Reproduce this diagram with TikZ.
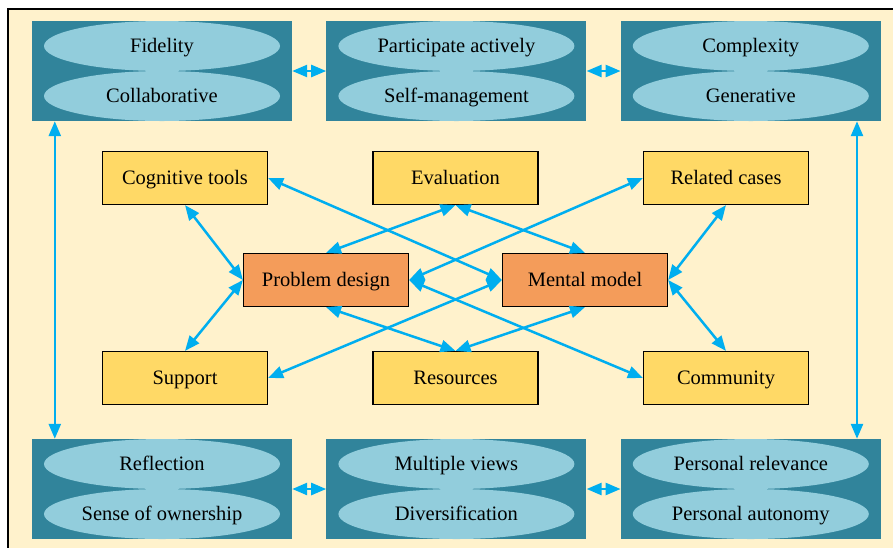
\documentclass[tikz,border=0pt]{standalone}
\usepackage{fontspec}
\setmainfont{Liberation Serif}
\usepackage{tikz}
\usetikzlibrary{arrows.meta,positioning,shapes.geometric,calc}
\definecolor{cream}{HTML}{FFF2CC}
\definecolor{tealbox}{HTML}{31849B}
\definecolor{skyoval}{HTML}{92CDDC}
\definecolor{sand}{HTML}{FFD966}
\definecolor{peach}{HTML}{F49C5A}
\definecolor{linkblue}{HTML}{00AEEF}

\begin{document}
\begin{tikzpicture}[
  x=1pt,y=-1pt,
  node distance=34pt,
  font=\fontsize{20.5}{24}\selectfont,
  group/.style={fill=tealbox,minimum width=260pt,minimum height=100pt,inner sep=0pt},
  oval/.style={ellipse,fill=skyoval,minimum width=236pt,minimum height=50pt,inner sep=0pt,
               text height=15pt,text depth=2pt},
  factor/.style={draw=black,line width=1.2pt,fill=sand,minimum width=165pt,
                 minimum height=53pt,inner sep=0pt,text height=15pt,text depth=2pt},
  core/.style={factor,fill=peach},
  link/.style={{Triangle[length=15pt,width=12pt]}-{Triangle[length=15pt,width=12pt]},
               line width=2.5pt,color=linkblue}
]
  \useasboundingbox (0,0) rectangle (893,547);
  \fill[white] (0,0) rectangle (893,547);
  \draw[fill=cream,line width=1.5pt] (8,9) rectangle (910,560);

  % outer groups, two ovals each
  \node[group] (tl) at (162,71) {};
  \node[group,right=of tl] (tm) {};
  \node[group,right=of tm] (tr) {};
  \node[group] (bl) at (162,489) {};
  \node[group,right=of bl] (bm) {};
  \node[group,right=of bm] (br) {};
  \foreach \g/\a/\b in {tl/Fidelity/Collaborative,
                        tm/Participate actively/Self-management,
                        tr/Complexity/Generative,
                        bl/Reflection/Sense of ownership,
                        bm/Multiple views/Diversification,
                        br/Personal relevance/Personal autonomy} {
    \node[oval,below=0pt of \g.north] (\g-a) {\a};
    \node[oval,above=0pt of \g.south] (\g-b) {\b};
  }

  % inner factors
  \node[factor] (tools) at (185,178) {Cognitive tools};
  \node[factor] (eval) at (455.5,178) {Evaluation};
  \node[factor] (cases) at (726,178) {Related cases};
  \node[core] (design) at (326,280) {Problem design};
  \node[core] (model) at (585,280) {Mental model};
  \node[factor] (support) at (185,378) {Support};
  \node[factor] (res) at (455.5,378) {Resources};
  \node[factor] (comm) at (726,378) {Community};

  \foreach \a/\b in {tools.south/design.west,support.north/design.west,
                     eval.south/design.north,res.north/design.south,
                     design.east/cases.west,design.east/comm.west,
                     tools.east/model.west,support.east/model.west,
                     eval.south/model.north,res.north/model.south,
                     cases.south/model.east,comm.north/model.east}
    \draw[link] (\a) -- (\b);

  \foreach \a/\b in {tl/tm,tm/tr,bl/bm,bm/br}
    \draw[link] (\a) -- (\b);
  \draw[link] ([xshift=23pt]tl.south west) -- ([xshift=23pt]bl.north west);
  \draw[link] ([xshift=-24pt]tr.south east) -- ([xshift=-24pt]br.north east);
\end{tikzpicture}
\end{document}
